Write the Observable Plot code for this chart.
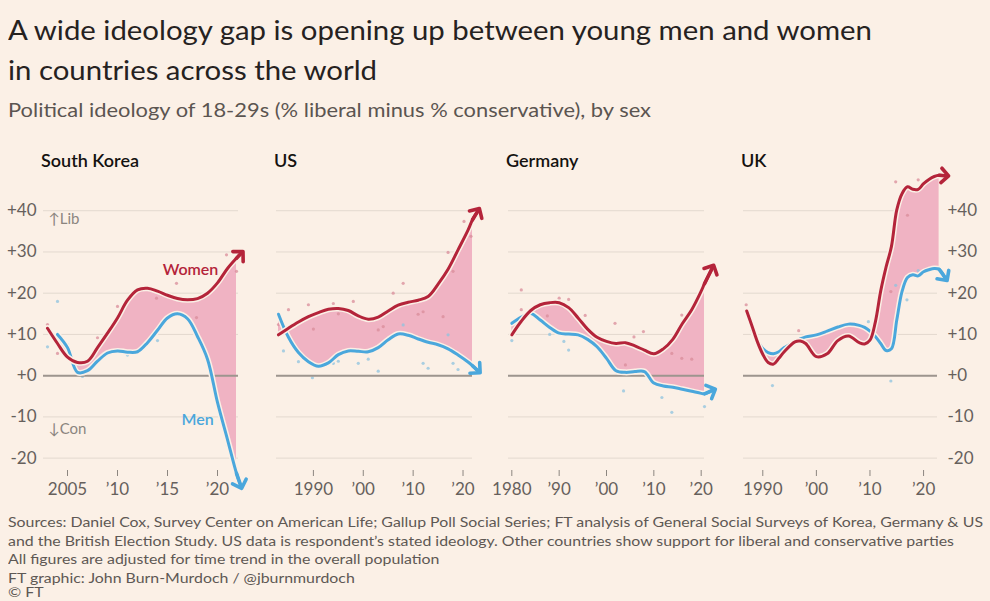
<!DOCTYPE html>
<html><head><meta charset="utf-8">
<script src="https://cdn.jsdelivr.net/npm/d3@7"></script>
<script src="https://cdn.jsdelivr.net/npm/@observablehq/plot@0.6"></script>
<style>
body{margin:0;background:#fbf0e6;}
#page{position:relative;width:990px;height:601px;overflow:hidden;background:#fbf0e6;font-family:Lato,"Noto Sans",sans-serif;}
.t{position:absolute;white-space:nowrap;transform-origin:0 50%;}
</style></head><body><div id="page"></div>
<script>
// ---------- DATA ----------
const titleLines = ["A wide ideology gap is opening up between young men and women", "in countries across the world"];
const subtitle = "Political ideology of 18-29s (% liberal minus % conservative), by sex";
const footerLines = [
  "Sources: Daniel Cox, Survey Center on American Life; Gallup Poll Social Series; FT analysis of General Social Surveys of Korea, Germany & US",
  "and the British Election Study. US data is respondent’s stated ideology. Other countries show support for liberal and conservative parties",
  "All figures are adjusted for time trend in the overall population",
  "FT graphic: John Burn-Murdoch / @jburnmurdoch",
  "© FT"
];
const countries = ["South Korea", "US", "Germany", "UK"];
const yTicks = [-20, -10, 0, 10, 20, 30, 40];

// South Korea
const skYears = [2003, 2004, 2005, 2006, 2007, 2008, 2009, 2010, 2011, 2012, 2013, 2014, 2015, 2016, 2017, 2018, 2019, 2020, 2021, 2021.9, 2022.3];
const skWomen = [11.5, 7.8, 4.5, 3.2, 3.5, 6.8, 10.3, 14, 18.3, 20.8, 21.2, 20.5, 19.5, 18.7, 18.4, 18.7, 20, 22.5, 26, 28.5, 29.5];
const skMen   = [null, 10, 6.8, 0.8, 1.2, 3.5, 5.5, 6, 5.7, 5.8, 8, 11, 14, 15, 13.8, 9.5, 4, -6.5, -15.5, -23.7, -26.5];
const skWomenDots = [[2003,12.4],[2004,5.4],[2008,9.2],[2010,16.8],[2013.9,18.8],[2015.9,22.4],[2017.9,14.1],[2020.9,29.3],[2021.9,25.3]];
const skMenDots = [[2003,7],[2004,18],[2005,7.5],[2006.5,-0.2],[2011,5],[2014,8.5],[2021,-16.8]];
const skTicks = [2005, 2010, 2015, 2020];
const skTickLabels = ["2005", "’10", "’15", "’20"];

// US
const usYears = [1983, 1985, 1987, 1989, 1991, 1993, 1995, 1997, 1999, 2001, 2003, 2005, 2007, 2009, 2011, 2013, 2015, 2017, 2019, 2021, 2021.9, 2022.9];
const usWomen = [9.9, 11.5, 13, 14.3, 15.3, 16.1, 16.3, 15.8, 14.5, 13.7, 14.2, 15.7, 17.1, 17.8, 18.3, 19.2, 22.2, 25.8, 30.5, 35.3, 37.8, 39.8];
const usMen   = [14.9, 9.3, 5.6, 3.4, 2.3, 3.1, 5.1, 6, 5.9, 5.8, 6.8, 8.7, 10.1, 9.8, 8.9, 8.1, 7.5, 6.5, 5, 3.3, 2.4, 1.3];
const usWomenDots = [[1983,12.4],[1985,16],[1989,17.2],[1990,11.3],[1994,17.5],[1995,15],[1998,18],[2003,11.1],[2004,11.9],[2006,20],[2008,22.4],[2011,14.9],[2012,15.5],[2016,14.3],[2017,29.9],[2018,25.3],[2020.2,37.4],[2021.6,33.8]];
const usMenDots = [[1984,6],[1987,3.4],[1989.8,-0.5],[1994,3],[1995,3.5],[1999,3],[2001,4],[2003,1.1],[2008,12.3],[2012,3],[2013,1.8],[2017,9.9],[2018,3],[2019,1.5]];
const usTicks = [1990, 2000, 2010, 2020];
const usTickLabels = ["1990", "’00", "’10", "’20"];

// Germany
const deYears = [1980, 1982, 1984, 1986, 1988, 1990, 1992, 1994, 1996, 1998, 2000, 2002, 2004, 2006, 2008, 2010, 2012, 2014, 2016, 2018, 2020, 2020.7, 2022.3];
const deWomen = [9.9, 13.2, 15.8, 17.2, 17.7, 17.7, 16.5, 14, 11.3, 9.3, 8.3, 7.8, 8, 7.2, 6.2, 5.3, 6.5, 8.8, 12.6, 16, 20.5, 22.3, 26];
const deMen   = [12.7, 14.2, 15.1, 13.5, 11.7, 10.3, 10.1, 9.9, 8.8, 7, 4.2, 1.2, 0.8, 1, 1, -1.8, -2.5, -2.8, -3.3, -3.8, -4.3, -4.4, -3.6];
const deWomenDots = [[1982,20.8],[1982,16],[1987.5,14.5],[1990,18.8],[1992,18.5],[1995.5,14.6],[2001.8,12.7],[2004,2.6],[2005.8,9.4],[2007.8,10.7],[2013.8,5.4],[2015.9,14.7],[2015.9,4.2],[2018,4]];
const deMenDots = [[1980,8.5],[1988,10],[1991,8.3],[1992,6.2],[2003.6,-3.7],[2011.7,-5.3],[2013.8,-8.9],[2020.7,-7.5]];
const deTicks = [1980, 1990, 2000, 2010, 2020];
const deTickLabels = ["1980", "’90", "’00", "’10", "’20"];

// UK
const ukYears = [1987, 1988, 1989, 1990, 1991, 1992, 1993, 1994, 1996, 1997, 1998, 2000, 2002, 2004, 2006, 2008, 2009, 2010, 2011, 2012, 2013, 2014, 2015, 2016, 2017, 2018, 2019, 2020, 2021, 2022, 2022.9, 2024];
const ukWomen = [15.7, 12, 8.2, 5.2, 3.2, 2.8, 4.2, 5.8, 8.2, 8.4, 7.8, 4.6, 5.3, 8.5, 9.6, 8, 7.7, 8.6, 13, 20.5, 26.3, 31.3, 40.2, 44.2, 45.8, 45.2, 45.2, 46.6, 47.6, 48.3, 48.6, 48.5];
const ukMen   = [null, 11, 8.5, 6.6, 5.6, 5.3, 5.8, 6.8, 8.2, 8.9, 9.4, 9.9, 10.8, 11.8, 12.5, 12.2, 11.7, 10.8, 9.5, 7.8, 6.1, 6.5, 13.5, 20.5, 23.8, 24.5, 24.2, 25.2, 25.7, 26, 25.8, 23.8];
const ukWomenDots = [[1986.9,17.2],[1996.7,10.9],[2013.9,20.4],[2014.8,47],[2017,38.9],[2019,47.5]];
const ukMenDots = [[1991.8,-2.4],[2009.7,13.1],[2013.9,-1.3],[2014.8,21.9],[2016.9,18.4],[2019,25.5]];
const ukTicks = [1990, 2000, 2010, 2020];
const ukTickLabels = ["1990", "’00", "’10", "’20"];

// ---------- STYLE ----------
const BG = "#fbf0e6", RED = "#b4243a", BLUE = "#4aa7dc", FILL = "#f0b3c3";
const GRID = "#e3d9cf", ZERO = "#9d958e", AXIS = "#66605c";
const FONT = 'Lato, "Noto Sans", sans-serif';
const fmtY = d => d >= 0 ? "+" + d : String(d);

const page = document.getElementById("page");
function addText(txt, x, cy, size, color, weight) {
  const el = document.createElement("div");
  el.className = "t";
  el.textContent = txt;
  el.style.left = x + "px";
  el.style.top = (cy - size / 2) + "px";
  el.style.fontSize = size + "px";
  el.style.lineHeight = size + "px";
  el.style.color = color;
  el.style.fontWeight = weight || 400;
  page.appendChild(el);
  return el;
}
function scaleTo(el, target) {
  const w = el.getBoundingClientRect().width;
  const k = target / w;
  el.style.transform = `scaleX(${k})`;
  return k;
}

// titles
const t1 = addText(titleLines[0], 8, 30, 26, "#26221f");
const t2 = addText(titleLines[1], 8, 70, 26, "#26221f");
const kt = scaleTo(t1, 864);
t2.style.transform = `scaleX(${kt})`;
const st = addText(subtitle, 8, 110, 18.5, "#5b5551");
scaleTo(st, 643);

// footer
const footY = [523, 541.5, 560, 578.5, 593];
const fEls = footerLines.map((s, i) => addText(s, 8, footY[i], 13.5, "#5e5854"));
const kf = scaleTo(fEls[0], 975);
fEls.forEach(e => e.style.transform = `scaleX(${kf})`);

// ---------- PANELS ----------
const panels = [
  {name: countries[0], years: skYears, women: skWomen, men: skMen, wd: skWomenDots, md: skMenDots, ticks: skTicks, labels: skTickLabels,
   domain: [2002.6, 2022.1], gx: 43, pw: 195, ml: 43, mr: 15, axis: "left"},
  {name: countries[1], years: usYears, women: usWomen, men: usMen, wd: usWomenDots, md: usMenDots, ticks: usTicks, labels: usTickLabels,
   domain: [1982.6, 2021.9], gx: 276, pw: 196, ml: 10, mr: 15},
  {name: countries[2], years: deYears, women: deWomen, men: deMen, wd: deWomenDots, md: deMenDots, ticks: deTicks, labels: deTickLabels,
   domain: [1979.3, 2020.7], gx: 508, pw: 196, ml: 10, mr: 15},
  {name: countries[3], years: ukYears, women: ukWomen, men: ukMen, wd: ukWomenDots, md: ukMenDots, ticks: ukTicks, labels: ukTickLabels,
   domain: [1986.4, 2022.6], gx: 743, pw: 194, ml: 10, mr: 55, axis: "right"}
];

const TOP = 159;
panels.forEach((p, idx) => {
  const rows = p.years.map((x, i) => ({x, w: p.women[i], m: p.men[i]}));
  const wRows = rows.filter(d => d.w != null);
  const mRows = rows.filter(d => d.m != null);
  const fillRows = rows.slice(0, -1).filter(d => d.w != null && d.m != null);
  const tail = rows.slice(-2);
  const lab = new Map(p.ticks.map((t, i) => [t, p.labels[i]]));
  const curve = "catmull-rom";
  const marks = [
    Plot.ruleY(yTicks, {stroke: GRID, strokeWidth: 1}),
    Plot.areaY(fillRows, {x: "x", y1: "m", y2: "w", fill: FILL, curve}),
    Plot.dot(p.wd, {x: d => d[0], y: d => d[1], r: 1.6, fill: "#d98c9a", stroke: null, fillOpacity: 0.75}),
    Plot.dot(p.md, {x: d => d[0], y: d => d[1], r: 1.6, fill: "#8dc3df", stroke: null, fillOpacity: 0.75}),
    Plot.ruleY([0], {stroke: ZERO, strokeWidth: 2}),
    Plot.axisX(p.ticks, {label: null, tickSize: 6, tickPadding: 6, stroke: "#8c8680", strokeWidth: 1, fill: AXIS, fontSize: 17, tickFormat: d => lab.get(d)}),
    Plot.line(mRows, {x: "x", y: "m", stroke: BG, strokeWidth: 6, curve}),
    Plot.line(mRows, {x: "x", y: "m", stroke: BLUE, strokeWidth: 3, curve}),
    Plot.line(tail, {x: "x", y: "m", stroke: BLUE, strokeWidth: 3.6, markerEnd: "arrow"}),
    Plot.line(wRows, {x: "x", y: "w", stroke: BG, strokeWidth: 6, curve}),
    Plot.line(wRows, {x: "x", y: "w", stroke: RED, strokeWidth: 3, curve}),
    Plot.line(tail, {x: "x", y: "w", stroke: RED, strokeWidth: 3.6, markerEnd: "arrow"})
  ];
  if (p.axis === "left") {
    marks.push(Plot.axisY(yTicks, {label: null, anchor: "left", tickSize: 0, tickPadding: 7, fill: AXIS, fontSize: 17, tickFormat: fmtY}));
    marks.push(Plot.text(["↑Lib"], {x: 2003.1, y: 37.9, text: d => d, textAnchor: "start", fill: "#8b857f", fontSize: 15}));
    marks.push(Plot.text(["↓Con"], {x: 2003.1, y: -12.9, text: d => d, textAnchor: "start", fill: "#8b857f", fontSize: 15}));
    marks.push(Plot.text(["Women"], {x: 2017.3, y: 25.7, text: d => d, fill: RED, fontSize: 16, fontWeight: 600}));
    marks.push(Plot.text(["Men"], {x: 2018.0, y: -10.7, text: d => d, fill: BLUE, fontSize: 16, fontWeight: 600}));
  }
  if (p.axis === "right") {
    marks.push(Plot.axisY(yTicks, {label: null, anchor: "right", tickSize: 0, tickPadding: 10, fill: AXIS, fontSize: 17, tickFormat: fmtY}));
  }
  const svg = Plot.plot({
    width: p.ml + p.pw + p.mr, height: 351,
    marginLeft: p.ml, marginRight: p.mr, marginTop: 10, marginBottom: 40,
    style: {background: "transparent", fontFamily: FONT, fontSize: "17px", overflow: "visible"},
    x: {domain: p.domain, axis: null},
    y: {domain: [-23, 50], axis: null},
    marks
  });
  svg.style.position = "absolute";
  svg.style.left = (p.gx - p.ml) + "px";
  svg.style.top = TOP + "px";
  svg.style.maxWidth = "none";
  page.appendChild(svg);
  addText(p.name, p.gx - 2, 160, 18, "#141210", 600);
});
</script>
</body></html>
